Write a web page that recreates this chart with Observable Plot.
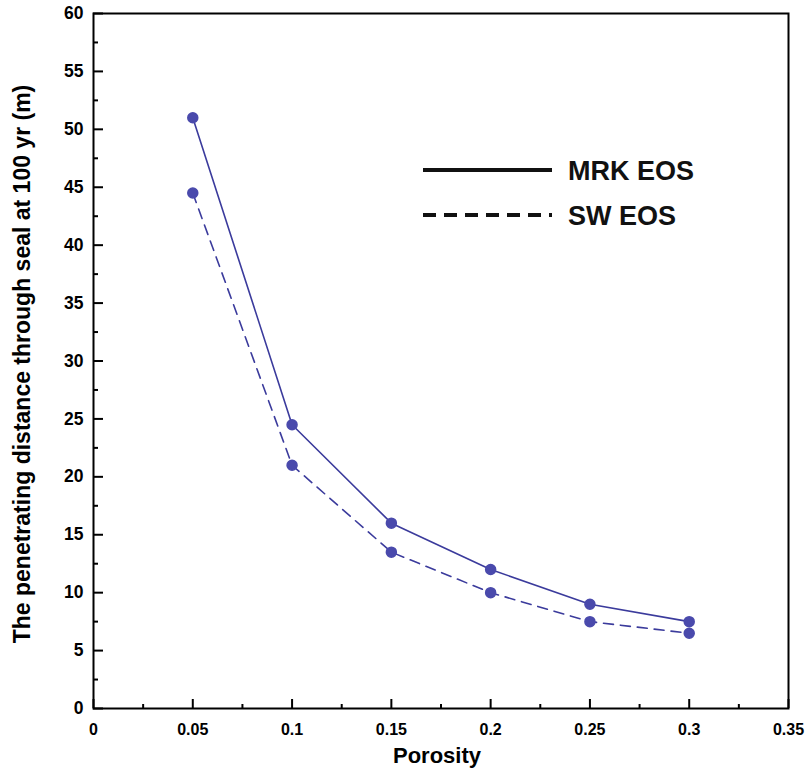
<!DOCTYPE html>
<html>
<head>
<meta charset="utf-8">
<script src="https://cdn.jsdelivr.net/npm/d3@7"></script>
<script src="https://cdn.jsdelivr.net/npm/@observablehq/plot@0.6"></script>
<style>
  html, body { margin: 0; padding: 0; background: #fff; }
  #wrap { position: relative; width: 806px; height: 776px; font-family: "Liberation Sans", Arial, sans-serif; }
  #legend { position: absolute; left: 0; top: 0; pointer-events: none; }
</style>
</head>
<body>
<div id="wrap"></div>
<script>
// ---- data ----
const porosity = [0.05, 0.1, 0.15, 0.2, 0.25, 0.3];
const mrkEOS = [51, 24.5, 16, 12, 9, 7.5];
const swEOS = [44.5, 21, 13.5, 10, 7.5, 6.5];
const seriesNames = ["MRK EOS", "SW EOS"];
const xMajorTicks = [0, 0.05, 0.1, 0.15, 0.2, 0.25, 0.3, 0.35];
const xMinorTicks = [0.025, 0.075, 0.125, 0.175, 0.225, 0.275, 0.325];
const yMajorTicks = [0, 5, 10, 15, 20, 25, 30, 35, 40, 45, 50, 55, 60];
const yMinorTicks = [2.5, 7.5, 12.5, 17.5, 22.5, 27.5, 32.5, 37.5, 42.5, 47.5, 52.5, 57.5];
const xLabel = "Porosity";
const yLabel = "The penetrating distance through seal at 100 yr (m)";

const rows = [];
porosity.forEach((p, i) => {
  rows.push({porosity: p, value: mrkEOS[i], series: seriesNames[0]});
  rows.push({porosity: p, value: swEOS[i], series: seriesNames[1]});
});
const mrk = rows.filter(d => d.series === seriesNames[0]);
const sw = rows.filter(d => d.series === seriesNames[1]);

const lineColor = "#3b3b9c";
const dotColor = "#4a4aac";
const fmt = d => String(+d.toFixed(3));

const chart = Plot.plot({
  width: 806,
  height: 776,
  marginLeft: 93,
  marginRight: 18,
  marginTop: 13,
  marginBottom: 68,
  style: {fontFamily: "'Liberation Sans', Arial, sans-serif", background: "#fff", color: "#000", overflow: "visible"},
  x: {domain: [0, 0.35]},
  y: {domain: [0, 60]},
  marks: [
    Plot.line(mrk, {x: "porosity", y: "value", stroke: lineColor, strokeWidth: 1.6}),
    Plot.line(sw, {x: "porosity", y: "value", stroke: lineColor, strokeWidth: 1.6, strokeDasharray: "10,7"}),
    Plot.dot(rows, {x: "porosity", y: "value", r: 5, fill: dotColor, stroke: dotColor}),
    // ticks (inward)
    Plot.axisY({ticks: yMajorTicks, tickSize: -10, tickFormat: () => "", label: null, strokeWidth: 2}),
    Plot.axisY({ticks: yMinorTicks, tickSize: -5, tickFormat: () => "", label: null, strokeWidth: 2}),
    Plot.axisX({ticks: xMajorTicks, tickSize: -9, tickFormat: () => "", label: null, strokeWidth: 2}),
    Plot.axisX({ticks: xMinorTicks, tickSize: -4, tickFormat: () => "", label: null, strokeWidth: 2}),
    // tick labels
    Plot.axisY({ticks: yMajorTicks, tickSize: 0, tickPadding: 10, tickFormat: fmt, label: null, fontSize: 17.5, fontWeight: "bold"}),
    Plot.axisX({ticks: xMajorTicks, tickSize: 0, tickPadding: 15, tickFormat: fmt, label: null, fontSize: 16, fontWeight: "bold"}),
    Plot.frame({stroke: "#000", strokeWidth: 2}),
    // axis titles
    Plot.text([xLabel], {frameAnchor: "bottom", dy: 54, dx: -4, fontSize: 22, fontWeight: "bold", fill: "#000"}),
    Plot.text([yLabel], {frameAnchor: "left", textAnchor: "middle", dx: -71, dy: 3, rotate: -90, fontSize: 23, fontWeight: "bold", fill: "#000"})
  ]
});
document.getElementById("wrap").appendChild(chart);

// legend overlay
const leg = d3.select("#wrap").append("svg").attr("id", "legend").attr("width", 806).attr("height", 776);
const legendItems = [
  {name: seriesNames[0], dash: null, y: 170},
  {name: seriesNames[1], dash: "13,8", y: 215}
];
legendItems.forEach(it => {
  leg.append("line").attr("x1", 423).attr("x2", 552).attr("y1", it.y).attr("y2", it.y)
    .attr("stroke", "#111").attr("stroke-width", 4).attr("stroke-dasharray", it.dash);
  leg.append("text").attr("x", 568).attr("y", it.y).attr("dy", "0.36em")
    .attr("font-family", "'Liberation Sans', Arial, sans-serif").attr("font-weight", "bold")
    .attr("font-size", 27).attr("fill", "#111").text(it.name);
});
</script>
</body>
</html>
